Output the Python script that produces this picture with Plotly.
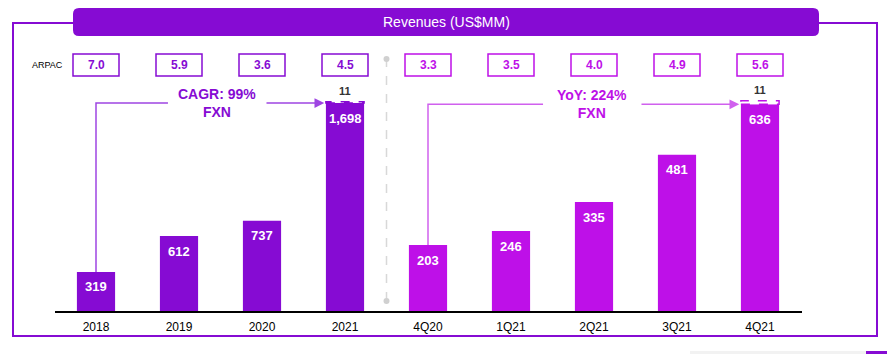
import plotly.graph_objects as go

# ---------------- data ----------------
categories = ["2018", "2019", "2020", "2021", "4Q20", "1Q21", "2Q21", "3Q21", "4Q21"]
annual_cats = ["2018", "2019", "2020", "2021"]
annual_rev = [319, 612, 737, 1698]
quarter_cats = ["4Q20", "1Q21", "2Q21", "3Q21", "4Q21"]
quarter_rev = [203, 246, 335, 481, 636]
arpac = ["7.0", "5.9", "3.6", "4.5", "3.3", "3.5", "4.0", "4.9", "5.6"]
extra_2021 = 11
extra_4q21 = 11
cagr_text = "CAGR: 99%<br>FXN"
yoy_text = "YoY: 224%<br>FXN"
title_text = "Revenues (US$MM)"

# ---------------- style ----------------
W, H = 887, 354
PURPLE = "#860BD3"
MAGENTA = "#BE10E8"
PURPLE_LINE = "#9E45E2"
MAGENTA_LINE = "#D060EE"
FONT = "Liberation Sans, Arial, sans-serif"
BW = 0.46


def PX(x):
    return x / W


def PY(y):
    return 1 - y / H


xa = list(range(len(annual_cats)))
xq = [len(annual_cats) + i for i in range(len(quarter_cats))]

fig = go.Figure()
fig.add_trace(go.Bar(x=xa, y=annual_rev, width=BW, marker=dict(color=PURPLE, line=dict(width=0)),
                     yaxis="y", hoverinfo="skip", showlegend=False))
fig.add_trace(go.Bar(x=xq, y=quarter_rev, width=BW, marker=dict(color=MAGENTA, line=dict(width=0)),
                     yaxis="y2", hoverinfo="skip", showlegend=False))

shapes = []
ann = []

# value labels inside bars
for x, v in zip(xa, annual_rev):
    ann.append(dict(x=x, y=v, xref="x", yref="y", text=f"<b>{v:,}</b>", showarrow=False,
                    yanchor="middle", yshift=-15, font=dict(family=FONT, size=13, color="white")))
for x, v in zip(xq, quarter_rev):
    ann.append(dict(x=x, y=v, xref="x", yref="y2", text=f"<b>{v:,}</b>", showarrow=False,
                    yanchor="middle", yshift=-15, font=dict(family=FONT, size=13, color="white")))

# dashed "11" boxes
for x, v, e, yr, col in [(xa[-1], annual_rev[-1], extra_2021, "y", PURPLE),
                          (xq[-1], quarter_rev[-1], extra_4q21, "y2", MAGENTA)]:
    shapes.append(dict(type="rect", xref="x", yref=yr, x0=x - BW / 2, x1=x + BW / 2, y0=v, y1=v + e,
                       line=dict(color=col, width=1.5, dash="dash"), fillcolor="white", layer="above"))
    ann.append(dict(x=x, y=v + e, xref="x", yref=yr, text=f"<b>{e}</b>", showarrow=False,
                    yanchor="bottom", yshift=3, font=dict(family=FONT, size=11, color="#333333")))

# ARPAC boxes
for i, a in enumerate(arpac):
    col = PURPLE if i < len(annual_cats) else MAGENTA
    hw = 23 / 83
    shapes.append(dict(type="rect", xref="x", yref="paper", x0=i - hw, x1=i + hw, y0=PY(76), y1=PY(54),
                       line=dict(color=col, width=1.5), fillcolor="white"))
    ann.append(dict(x=i, y=PY(65), xref="x", yref="paper", text=f"<b>{a}</b>", showarrow=False,
                    xanchor="center", yanchor="middle", font=dict(family=FONT, size=12, color=col)))
ann.append(dict(x=PX(47), y=PY(65), xref="paper", yref="paper", text="ARPAC", showarrow=False,
                xanchor="center", yanchor="middle", font=dict(family=FONT, size=9, color="black")))

# CAGR / YoY brackets
def bracket(x_start, y_start, y_level, x_gap0, x_text, x_gap1, x_tip, yr, lcol, tcol, text):
    shapes.append(dict(type="path", xref="x", yref=yr,
                       path=f"M {x_start},{y_start} L {x_start},{y_level} L {x_gap0},{y_level}",
                       line=dict(color=lcol, width=1.5)))
    ann.append(dict(x=x_tip, y=y_level, xref="x", yref=yr, ax=x_gap1, ay=y_level, axref="x", ayref=yr,
                    text="", showarrow=True, arrowhead=2, arrowsize=1.3, arrowwidth=1.5, arrowcolor=lcol,
                    standoff=0))
    ann.append(dict(x=x_text, y=y_level, xref="x", yref=yr, text=f"<b>{text}</b>", showarrow=False,
                    xanchor="center", yanchor="middle", font=dict(family=FONT, size=14, color=tcol)))


bracket(xa[0], annual_rev[0], annual_rev[-1], 0.867, 1.458, 2.036, xa[-1] - BW / 2 - 0.02,
        "y", PURPLE_LINE, PURPLE, cagr_text)
bracket(xq[0], quarter_rev[0], quarter_rev[-1], xq[0] + 1.386, xq[0] + 1.976, xq[0] + 2.554,
        xq[-1] - BW / 2 - 0.02, "y2", MAGENTA_LINE, MAGENTA, yoy_text)

# separator
sep_x = (xa[-1] + xq[0]) / 2
shapes.append(dict(type="line", xref="x", yref="paper", x0=sep_x, x1=sep_x, y0=PY(301), y1=PY(59),
                   line=dict(color="#D8D8D8", width=1.5, dash="dash")))
for yy in (59, 301):
    shapes.append(dict(type="circle", xref="x", yref="paper", xsizemode="pixel", ysizemode="pixel",
                       xanchor=sep_x, yanchor=PY(yy), x0=-3, x1=3, y0=-3, y1=3,
                       fillcolor="#D0D0D0", line=dict(width=0)))

# outer frame
shapes.append(dict(type="path", xref="paper", yref="paper",
                   path=(f"M {PX(73)},{PY(23)} L {PX(13)},{PY(23)} L {PX(13)},{PY(336)} "
                         f"L {PX(877)},{PY(336)} L {PX(877)},{PY(23)} L {PX(819)},{PY(23)}"),
                   line=dict(color=PURPLE, width=2)))

# title bar (rounded)
x0, x1, y0, y1, r = 73, 819, 8, 36, 6
path = (f"M {PX(x0 + r)},{PY(y0)} L {PX(x1 - r)},{PY(y0)} Q {PX(x1)},{PY(y0)} {PX(x1)},{PY(y0 + r)} "
        f"L {PX(x1)},{PY(y1 - r)} Q {PX(x1)},{PY(y1)} {PX(x1 - r)},{PY(y1)} "
        f"L {PX(x0 + r)},{PY(y1)} Q {PX(x0)},{PY(y1)} {PX(x0)},{PY(y1 - r)} "
        f"L {PX(x0)},{PY(y0 + r)} Q {PX(x0)},{PY(y0)} {PX(x0 + r)},{PY(y0)} Z")
shapes.append(dict(type="path", xref="paper", yref="paper", path=path, fillcolor=PURPLE,
                   line=dict(width=0)))
ann.append(dict(x=PX(446), y=PY(22), xref="paper", yref="paper", text=title_text, showarrow=False,
                xanchor="center", yanchor="middle", font=dict(family=FONT, size=14, color="white")))

# bottom right decoration
shapes.append(dict(type="rect", xref="paper", yref="paper", x0=PX(690), x1=PX(866), y0=PY(354), y1=PY(351),
                   fillcolor="#F2F2F2", line=dict(width=0)))
shapes.append(dict(type="rect", xref="paper", yref="paper", x0=PX(866), x1=PX(887), y0=PY(354), y1=PY(351),
                   fillcolor=PURPLE, line=dict(width=0)))

fig.update_layout(
    width=W, height=H, margin=dict(l=0, r=0, t=0, b=0),
    paper_bgcolor="white", plot_bgcolor="white",
    barmode="overlay", showlegend=False,
    font=dict(family=FONT),
    xaxis=dict(domain=[54.5 / W, 801.5 / W], range=[-0.5, len(categories) - 0.5],
               tickvals=list(range(len(categories))), ticktext=categories,
               tickfont=dict(family=FONT, size=12, color="black"),
               showline=True, linecolor="black", linewidth=1.5, showgrid=False, zeroline=False,
               ticks="", ticklabelstandoff=4, fixedrange=True),
    yaxis=dict(domain=[PY(311), PY(20)], range=[0, 291 / 0.1225], visible=False, showgrid=False,
               zeroline=False, fixedrange=True),
    yaxis2=dict(domain=[PY(311), PY(20)], range=[0, 291 / 0.325], overlaying="y", visible=False,
                showgrid=False, zeroline=False, fixedrange=True),
    shapes=shapes, annotations=ann,
)

fig.write_html("out.html")
